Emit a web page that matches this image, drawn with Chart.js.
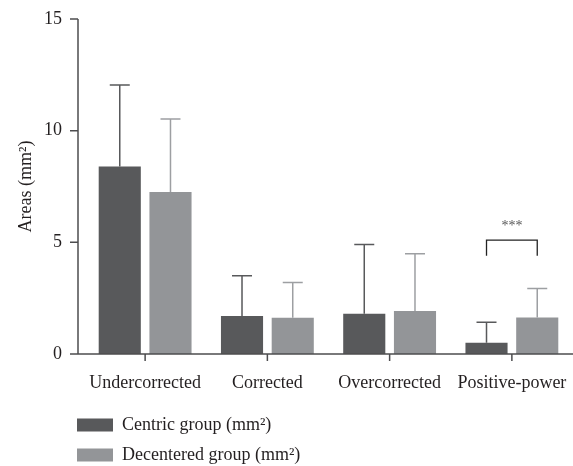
<!DOCTYPE html>
<html>
<head>
<meta charset="utf-8">
<script src="https://cdn.jsdelivr.net/npm/chart.js@4"></script>
<style>
  html, body { margin: 0; padding: 0; background: #fff; }
  #wrap { width: 573px; height: 466px; }
</style>
</head>
<body>
<div id="wrap"><canvas id="areas"></canvas></div>
<script>
const categories = ['Undercorrected', 'Corrected', 'Overcorrected', 'Positive-power'];
const centricMeans = [8.4, 1.7, 1.8, 0.5];
const centricSD = [3.65, 1.8, 3.1, 0.92];
const decenteredMeans = [7.25, 1.62, 1.93, 1.63];
const decenteredSD = [3.27, 1.58, 2.56, 1.3];
const yTicks = [0, 5, 10, 15];
const seriesNames = ['Centric group (mm²)', 'Decentered group (mm²)'];

// significance bracket (positive-power group)
const sigCategory = 3;
const sigLevel = 5.1;
const sigDrop = 0.7;
const sigText = '***';

const FONT = "'Liberation Serif', 'Times New Roman', serif";
const AXIS = '#4d4d4f';

// error bars on top of each bar (upper whisker only)
const errorBars = {
    id: 'errorBars',
    afterDatasetsDraw(chart) {
        const ctx = chart.ctx;
        const y = chart.scales.y;
        chart.data.datasets.forEach((ds, i) => {
            const meta = chart.getDatasetMeta(i);
            ctx.save();
            ctx.strokeStyle = ds.errorColor;
            ctx.lineWidth = 1.5;
            meta.data.forEach((bar, j) => {
                const top = y.getPixelForValue(ds.data[j] + ds.sd[j]);
                ctx.beginPath();
                ctx.moveTo(bar.x, bar.y);
                ctx.lineTo(bar.x, top);
                ctx.moveTo(bar.x - 10, top);
                ctx.lineTo(bar.x + 10, top);
                ctx.stroke();
            });
            ctx.restore();
        });
    }
};

// axis lines drawn a bit to the left of the first category
const axesLines = {
    id: 'axesLines',
    afterDraw(chart) {
        const ctx = chart.ctx;
        const area = chart.chartArea;
        const x = chart.scales.x, y = chart.scales.y;
        const ax = area.left - 6;
        ctx.save();
        ctx.strokeStyle = AXIS;
        ctx.lineWidth = 1.5;
        ctx.beginPath();
        ctx.moveTo(ax, y.getPixelForValue(15));
        ctx.lineTo(ax, y.getPixelForValue(0));
        yTicks.forEach(v => {
            const py = y.getPixelForValue(v);
            ctx.moveTo(ax - 8, py);
            ctx.lineTo(ax, py);
        });
        const by = y.getPixelForValue(0);
        ctx.moveTo(ax - 8, by);
        ctx.lineTo(area.right, by);
        categories.forEach((c, i) => {
            const px = x.getPixelForValue(i);
            ctx.moveTo(px, by);
            ctx.lineTo(px, by + 7);
        });
        ctx.stroke();
        ctx.restore();
    }
};

// bracket with stars between the two bars of one category
const sigBracket = {
    id: 'sigBracket',
    afterDraw(chart) {
        const ctx = chart.ctx;
        const y = chart.scales.y;
        const b1 = chart.getDatasetMeta(0).data[sigCategory];
        const b2 = chart.getDatasetMeta(1).data[sigCategory];
        const top = y.getPixelForValue(sigLevel);
        const leg = y.getPixelForValue(sigLevel - sigDrop);
        ctx.save();
        ctx.strokeStyle = '#222';
        ctx.lineWidth = 1.3;
        ctx.beginPath();
        ctx.moveTo(b1.x, leg);
        ctx.lineTo(b1.x, top);
        ctx.lineTo(b2.x, top);
        ctx.lineTo(b2.x, leg);
        ctx.stroke();
        ctx.fillStyle = '#555';
        ctx.font = '14px ' + FONT;
        ctx.textAlign = 'center';
        ctx.textBaseline = 'middle';
        ctx.fillText(sigText, (b1.x + b2.x) / 2, top - 14);
        ctx.restore();
    }
};

// stacked legend under the axis
const stackedLegend = {
    id: 'stackedLegend',
    afterDraw(chart) {
        const ctx = chart.ctx;
        const area = chart.chartArea;
        ctx.save();
        ctx.font = '18px ' + FONT;
        ctx.textBaseline = 'middle';
        ctx.textAlign = 'left';
        chart.data.datasets.forEach((ds, i) => {
            const cy = area.bottom + 71 + i * 30;
            ctx.fillStyle = ds.backgroundColor;
            ctx.fillRect(area.left - 7, cy - 6.5, 36, 13);
            ctx.fillStyle = '#231f20';
            ctx.fillText(ds.label, area.left + 38, cy);
        });
        ctx.restore();
    }
};

function noPadding(scale) {
    scale.paddingLeft = 0;
    scale.paddingRight = 0;
    scale.paddingTop = 0;
    scale.paddingBottom = 0;
}

new Chart(document.getElementById('areas'), {
    type: 'bar',
    data: {
        labels: categories,
        datasets: [
            {
                label: seriesNames[0],
                data: centricMeans,
                sd: centricSD,
                backgroundColor: '#58595b',
                errorColor: '#58595b',
                categoryPercentage: 0.83,
                barPercentage: 0.83
            },
            {
                label: seriesNames[1],
                data: decenteredMeans,
                sd: decenteredSD,
                backgroundColor: '#939598',
                errorColor: '#9d9fa2',
                categoryPercentage: 0.83,
                barPercentage: 0.83
            }
        ]
    },
    options: {
        responsive: true,
        maintainAspectRatio: false,
        animation: false,
        layout: { padding: { top: 19, right: 0, bottom: 0, left: 0 } },
        plugins: {
            legend: { display: false },
            tooltip: { enabled: false }
        },
        scales: {
            x: {
                grid: { display: false, drawTicks: false },
                border: { display: false },
                ticks: {
                    color: '#231f20',
                    font: { family: FONT, size: 18 },
                    padding: 18,
                    maxRotation: 0,
                    autoSkip: false
                },
                afterFit(scale) { scale.height = 112; noPadding(scale); }
            },
            y: {
                min: 0,
                max: 15,
                grid: { display: false, drawTicks: false },
                border: { display: false },
                afterBuildTicks(scale) { scale.ticks = yTicks.map(v => ({ value: v })); },
                ticks: {
                    color: '#231f20',
                    font: { family: FONT, size: 18 },
                    padding: 22
                },
                title: {
                    display: true,
                    text: 'Areas (mm²)',
                    color: '#231f20',
                    font: { family: FONT, size: 18 },
                    padding: { top: 15, bottom: 0 }
                },
                afterFit(scale) { scale.width = 84; noPadding(scale); }
            }
        }
    },
    plugins: [errorBars, axesLines, sigBracket, stackedLegend]
});
</script>
</body>
</html>
